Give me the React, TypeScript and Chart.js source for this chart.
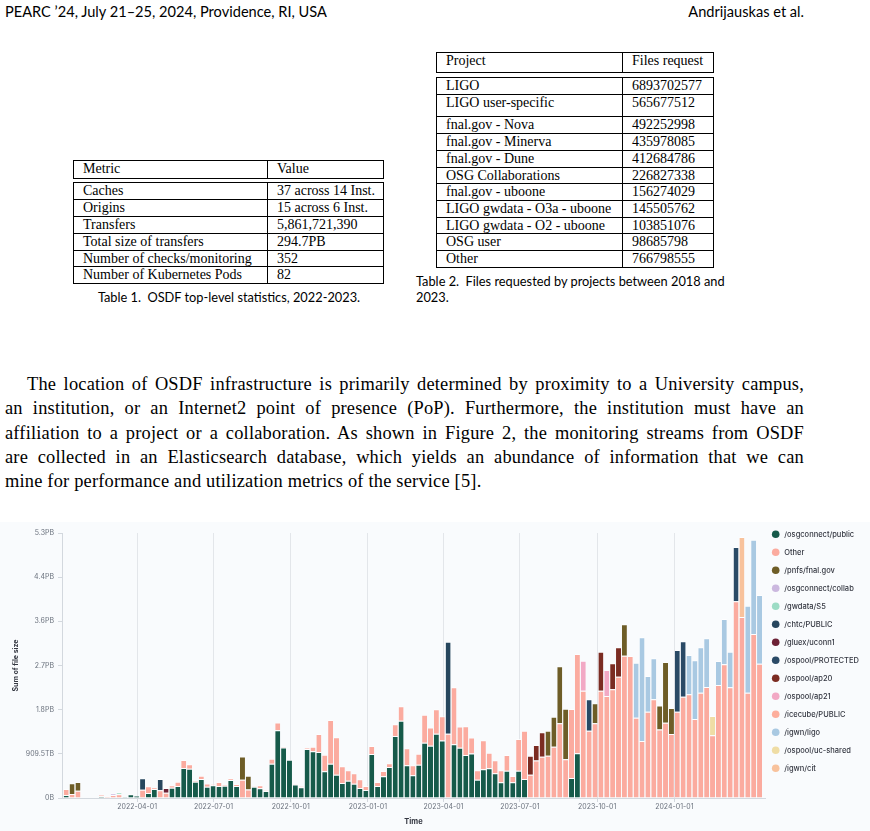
import React, { useEffect, useRef } from "react";
import { Chart, registerables } from "chart.js";
Chart.register(...registerables);

// ---------- page text ----------
const headerLeft = "PEARC \u201924, July 21\u201325, 2024, Providence, RI, USA";
const headerRight = "Andrijauskas et al.";

const table1Header = ["Metric", "Value"];
const table1Rows = [
  ["Caches", "37 across 14 Inst."],
  ["Origins", "15 across 6 Inst."],
  ["Transfers", "5,861,721,390"],
  ["Total size of transfers", "294.7PB"],
  ["Number of checks/monitoring", "352"],
  ["Number of Kubernetes Pods", "82"],
];
const table1Caption = "Table 1.\u2002OSDF top-level statistics, 2022-2023.";

const table2Header = ["Project", "Files request"];
const table2Rows = [
  ["LIGO", "6893702577"],
  ["LIGO user-specific", "565677512"],
  ["fnal.gov - Nova", "492252998"],
  ["fnal.gov - Minerva", "435978085"],
  ["fnal.gov - Dune", "412684786"],
  ["OSG Collaborations", "226827338"],
  ["fnal.gov - uboone", "156274029"],
  ["LIGO gwdata - O3a - uboone", "145505762"],
  ["LIGO gwdata - O2 - uboone", "103851076"],
  ["OSG user", "98685798"],
  ["Other", "766798555"],
];
const table2Caption = ["Table 2.\u2002Files requested by projects between 2018 and", "2023."];

const paragraphLines = [
  "The location of OSDF infrastructure is primarily determined by proximity to a University campus,",
  "an institution, or an Internet2 point of presence (PoP). Furthermore, the institution must have an",
  "affiliation to a project or a collaboration. As shown in Figure 2, the monitoring streams from OSDF",
  "are collected in an Elasticsearch database, which yields an abundance of information that we can",
  "mine for performance and utilization metrics of the service [5].",
];

// ---------- chart data (values in TB) ----------
const weekStarts = [
  "2022-01-03", "2022-01-10", "2022-01-17", "2022-01-24", "2022-01-31",
  "2022-02-07", "2022-02-14", "2022-02-21", "2022-02-28",
  "2022-03-07", "2022-03-14", "2022-03-21", "2022-03-28",
  "2022-04-04", "2022-04-11", "2022-04-18", "2022-04-25",
  "2022-05-02", "2022-05-09", "2022-05-16", "2022-05-23", "2022-05-30",
  "2022-06-06", "2022-06-13", "2022-06-20", "2022-06-27",
  "2022-07-04", "2022-07-11", "2022-07-18", "2022-07-25",
  "2022-08-01", "2022-08-08", "2022-08-15", "2022-08-22", "2022-08-29",
  "2022-09-05", "2022-09-12", "2022-09-19", "2022-09-26",
  "2022-10-03", "2022-10-10", "2022-10-17", "2022-10-24", "2022-10-31",
  "2022-11-07", "2022-11-14", "2022-11-21", "2022-11-28",
  "2022-12-05", "2022-12-12", "2022-12-19", "2022-12-26",
  "2023-01-02", "2023-01-09", "2023-01-16", "2023-01-23", "2023-01-30",
  "2023-02-06", "2023-02-13", "2023-02-20", "2023-02-27",
  "2023-03-06", "2023-03-13", "2023-03-20", "2023-03-27",
  "2023-04-03", "2023-04-10", "2023-04-17", "2023-04-24",
  "2023-05-01", "2023-05-08", "2023-05-15", "2023-05-22", "2023-05-29",
  "2023-06-05", "2023-06-12", "2023-06-19", "2023-06-26",
  "2023-07-03", "2023-07-10", "2023-07-17", "2023-07-24", "2023-07-31",
  "2023-08-07", "2023-08-14", "2023-08-21", "2023-08-28",
  "2023-09-04", "2023-09-11", "2023-09-18", "2023-09-25",
  "2023-10-02", "2023-10-09", "2023-10-16", "2023-10-23", "2023-10-30",
  "2023-11-06", "2023-11-13", "2023-11-20", "2023-11-27",
  "2023-12-04", "2023-12-11", "2023-12-18", "2023-12-25",
  "2024-01-01", "2024-01-08", "2024-01-15", "2024-01-22", "2024-01-29",
  "2024-02-05", "2024-02-12", "2024-02-19", "2024-02-26",
  "2024-03-04", "2024-03-11", "2024-03-18", "2024-03-25",
  "2024-04-01", "2024-04-08",
];

const osgconnectPublic = [
  62, 0, 0, 0, 0,
  0, 35, 8, 0,
  0, 21, 76, 47,
  0, 103, 185, 0,
  0, 212, 247, 618, 601,
  336, 391, 233, 262,
  247, 253, 371, 247,
  0, 0, 233, 200, 144,
  706, 1394, 1040, 787,
  278, 222, 1009, 962, 947,
  550, 706, 480, 309,
  356, 294, 206, 165,
  906, 247, 447, 638, 1277,
  1592, 673, 467, 686,
  1139, 1075, 1322, 1184,
  0, 1106, 1036, 885,
  916, 375, 593, 612, 511,
  325, 562, 323, 562,
  391, 0, 0, 0, 0,
  0, 0, 0, 412,
  920, 0, 0, 0,
  0, 0, 0, 0, 0,
  0, 0, 0, 0,
  0, 0, 0, 0,
  0, 0, 0, 0, 0,
  0, 0, 0, 0,
  0, 0, 0, 0,
  0, 0,
];

const other = [
  124, 82, 150, 0, 10,
  0, 33, 21, 62,
  76, 0, 0, 0,
  171, 138, 27, 159,
  109, 49, 89, 165, 93,
  21, 66, 66, 21,
  82, 14, 35, 41,
  377, 175, 8, 62, 10,
  101, 161, 25, 0,
  14, 21, 21, 95, 371,
  342, 900, 770, 344,
  214, 214, 179, 82,
  165, 82, 109, 76, 241,
  297, 350, 206, 226,
  577, 377, 504, 500,
  1324, 1174, 437, 593,
  329, 198, 595, 319, 268,
  247, 323, 130, 653,
  995, 480, 772, 850, 871,
  1056, 1538, 797, 1421,
  2045, 2209, 1386, 1538,
  2209, 2100, 2238, 2498, 2930,
  2924, 1653, 1174, 1777,
  2032, 1410, 1550, 1318,
  1777, 2086, 2135, 1627, 2168,
  2286, 1291, 2327, 2753,
  2279, 4050, 3727, 2168,
  3377, 2765,
];

const pnfsFnalGov: [string, number][] = [
  ["2022-01-10", 220], ["2022-01-17", 179], ["2022-01-24", 14],
  ["2022-08-01", 478], ["2022-08-08", 284],
  ["2023-07-31", 515], ["2023-08-07", 618], ["2023-08-14", 1174], ["2023-08-21", 1042],
  ["2023-09-25", 412], ["2023-10-30", 647],
  ["2023-12-11", 494], ["2023-12-18", 1250], ["2023-12-25", 535],
];
const osgconnectCollab: [string, number][] = [["2022-02-28", 35]];
const gwdataS5: [string, number][] = [["2022-03-07", 41]];
const chtcPublic: [string, number][] = [["2022-04-04", 235], ["2022-04-25", 233], ["2023-04-03", 1892]];
const gluexUconn1: [string, number][] = [["2022-05-02", 97]];
const ospoolProtected: [string, number][] = [
  ["2023-09-18", 647], ["2024-01-01", 1270], ["2024-01-08", 1141], ["2024-03-11", 1118],
];
const ospoolAp20: [string, number][] = [
  ["2023-07-10", 391], ["2023-07-17", 319], ["2023-07-24", 502],
  ["2023-10-02", 803], ["2023-10-16", 535], ["2023-10-23", 605],
];
const ospoolAp21: [string, number][] = [["2023-09-11", 618], ["2023-10-09", 535]];
const icecubePublic: [string, number][] = [];
const igwnLigo: [string, number][] = [
  ["2023-11-13", 1132], ["2023-11-20", 2135], ["2023-11-27", 735], ["2023-12-04", 844],
  ["2024-01-15", 809], ["2024-01-22", 1209], ["2024-01-29", 935], ["2024-02-05", 1003],
  ["2024-02-19", 494], ["2024-02-26", 933], ["2024-03-04", 733],
  ["2024-03-25", 1791], ["2024-04-01", 1942], ["2024-04-08", 1415],
];
const ospoolUcShared: [string, number][] = [["2024-02-12", 397]];
const igwnCit: [string, number][] = [["2024-03-18", 1647]];

const seriesNames = [
  "/osgconnect/public", "Other", "/pnfs/fnal.gov", "/osgconnect/collab", "/gwdata/S5",
  "/chtc/PUBLIC", "/gluex/uconn1", "/ospool/PROTECTED", "/ospool/ap20", "/ospool/ap21",
  "/icecube/PUBLIC", "/igwn/ligo", "/ospool/uc-shared", "/igwn/cit",
];
const seriesColors = [
  "#165a4a", "#fbab9f", "#6e5d27", "#cbb8df", "#9cdcc5",
  "#26465d", "#6c2135", "#2a4a66", "#7b2c22", "#f2a9c5",
  "#fdae9c", "#a9c9e2", "#efdda5", "#f8c29c",
];

const quarterTicks = [
  "2022-04-01", "2022-07-01", "2022-10-01", "2023-01-01",
  "2023-04-01", "2023-07-01", "2023-10-01", "2024-01-01",
];
const yTickValues = [0, 909.5, 1819, 2728.5, 3638, 4547.5, 5457];
const yTickLabels = ["0B", "909.5TB", "1.8PB", "2.7PB", "3.6PB", "4.4PB", "5.3PB"];
const xRange = ["2022-01-01T12:00", "2024-04-18T00:00"];

// ---------- helpers ----------
const dayOf = (s: string) => {
  const d = new Date(s.length > 10 ? s + "Z" : s + "T00:00Z");
  return d.getTime() / 86400000;
};

const sideLegend = {
  id: "sideLegend",
  afterDraw(chart: any) {
    const { ctx, chartArea } = chart;
    ctx.save();
    ctx.font = "500 7.5px Inter";
    ctx.textBaseline = "middle";
    ctx.textAlign = "left";
    chart.data.datasets.forEach((ds: any, k: number) => {
      const y = chartArea.top + 1.3 + k * 18;
      ctx.fillStyle = ds.backgroundColor;
      ctx.beginPath();
      ctx.arc(chartArea.right + 10.7, y, 3.8, 0, Math.PI * 2);
      ctx.fill();
      ctx.fillStyle = "#343741";
      ctx.fillText(ds.label, chartArea.right + 19.3, y);
    });
    ctx.restore();
  },
};

function FilesChart() {
  const ref = useRef<HTMLCanvasElement | null>(null);
  useEffect(() => {
    if (!ref.current) return;
    const fullSeries = [osgconnectPublic, other];
    const sparse = [
      pnfsFnalGov, osgconnectCollab, gwdataS5, chtcPublic, gluexUconn1, ospoolProtected,
      ospoolAp20, ospoolAp21, icecubePublic, igwnLigo, ospoolUcShared, igwnCit,
    ];
    const allSeries: (number | null)[][] = [
      ...fullSeries.map((arr) => arr.map((v) => (v ? v : null))),
      ...sparse.map((pairs) => {
        const m = new Map(pairs);
        return weekStarts.map((w) => (m.has(w) ? (m.get(w) as number) : null));
      }),
    ];
    const datasets = seriesNames.map((name, k) => ({
      label: name,
      backgroundColor: seriesColors[k],
      borderColor: "rgba(255,255,255,0.75)",
      borderWidth: { top: 1, left: 0, right: 0, bottom: 0 },
      borderSkipped: false,
      categoryPercentage: 0.85,
      barPercentage: 1,
      data: weekStarts.map((w, i) => ({ x: dayOf(w) + 3.5, y: allSeries[k][i] })),
    }));
    const tickFont = { family: "Inter", size: 7 };
    const chart = new Chart(ref.current, {
      type: "bar",
      data: { datasets } as any,
      plugins: [sideLegend],
      options: {
        animation: false,
        responsive: false,
        layout: { padding: { left: 6, right: 105, top: 11, bottom: 0 } },
        plugins: { legend: { display: false }, tooltip: { enabled: false } },
        scales: {
          x: {
            type: "linear",
            stacked: true,
            offset: false,
            min: dayOf(xRange[0]),
            max: dayOf(xRange[1]),
            afterBuildTicks: (scale: any) => {
              scale.ticks = quarterTicks.map((d) => ({ value: dayOf(d) }));
            },
            afterFit: (scale: any) => {
              scale.height = 33;
            },
            ticks: {
              autoSkip: false,
              maxRotation: 0,
              padding: 1,
              color: "#6a717d",
              font: tickFont,
              callback: (_v: any, i: number) => quarterTicks[i],
            },
            grid: {
              offset: false,
              color: "#e3e6ea",
              lineWidth: 1,
              drawTicks: true,
              tickLength: 4,
              tickColor: "#d3d8de",
            },
            border: { display: true, color: "#d3d8de" },
            title: {
              display: true,
              text: "Time",
              color: "#343741",
              font: { family: "Inter", size: 7.5, weight: "bold" },
              padding: { top: 0, bottom: 4.5 },
            },
          },
          y: {
            stacked: true,
            min: 0,
            max: yTickValues[yTickValues.length - 1],
            afterBuildTicks: (scale: any) => {
              scale.ticks = yTickValues.map((v) => ({ value: v }));
            },
            afterFit: (scale: any) => {
              scale.width = 56;
            },
            ticks: {
              padding: 4,
              color: "#6a717d",
              font: tickFont,
              callback: (_v: any, i: number) => yTickLabels[i],
            },
            grid: { drawOnChartArea: false, drawTicks: true, tickLength: 4, color: "#d3d8de" },
            border: { display: true, color: "#d3d8de" },
            title: {
              display: true,
              text: "Sum of file size",
              color: "#343741",
              font: { family: "Inter", size: 7, weight: "bold" },
              padding: { top: 6, bottom: 0 },
            },
          },
        },
      } as any,
    });
    return () => chart.destroy();
  }, []);
  return <canvas ref={ref} width={870} height={309} style={{ display: "block" }} />;
}

// ---------- tables ----------
type TableProps = {
  left: number;
  right: number;
  divider: number;
  header: string[];
  headerTop: number;
  headerBottom: number;
  rows: string[][];
  lines: number[];
};

function BoxTable({ left, right, divider, header, headerTop, headerBottom, rows, lines }: TableProps) {
  const width = right - left;
  const textStyle: React.CSSProperties = {
    position: "absolute",
    top: 0,
    fontFamily: '"Liberation Serif", "Times New Roman", serif',
    fontSize: 14,
    lineHeight: "16px",
    color: "#000",
    whiteSpace: "nowrap",
  };
  const row = (key: string, top: number, bottom: number, cells: string[]) => (
    <div
      key={key}
      style={{
        position: "absolute",
        left,
        top,
        width,
        height: bottom - top + 1,
        border: "1px solid #000",
        boxSizing: "border-box",
      }}
    >
      <div style={{ position: "absolute", left: divider - left - 1, top: 0, bottom: 0, borderLeft: "1px solid #000" }} />
      <span style={{ ...textStyle, left: 9 }}>{cells[0]}</span>
      <span style={{ ...textStyle, left: divider - left + 9 }}>{cells[1]}</span>
    </div>
  );
  return (
    <>
      {row("h", headerTop, headerBottom, header)}
      {rows.map((r, i) => row("r" + i, lines[i], lines[i + 1], r))}
    </>
  );
}

export default function App() {
  const sans = 'Lato, "Open Sans", sans-serif';
  const capStyle: React.CSSProperties = {
    position: "absolute",
    fontFamily: sans,
    fontSize: 12.8,
    lineHeight: "16px",
    whiteSpace: "nowrap",
  };
  return (
    <div style={{ position: "absolute", left: 0, top: 0, width: 870, height: 831, background: "#fff", overflow: "hidden" }}>
      <div style={{ position: "absolute", left: 5, top: 3, fontFamily: sans, fontSize: 14.6, lineHeight: "18px", whiteSpace: "nowrap" }}>
        {headerLeft}
      </div>
      <div style={{ position: "absolute", right: 66, top: 3, fontFamily: sans, fontSize: 14.6, lineHeight: "18px", whiteSpace: "nowrap" }}>
        {headerRight}
      </div>

      <BoxTable
        left={73}
        right={384}
        divider={267}
        header={table1Header}
        headerTop={160}
        headerBottom={178}
        rows={table1Rows}
        lines={[181.5, 199, 216, 233, 249.5, 266, 283]}
      />
      <div style={{ ...capStyle, left: 0, width: 458, top: 289, textAlign: "center" }}>{table1Caption}</div>

      <BoxTable
        left={436}
        right={714}
        divider={622}
        header={table2Header}
        headerTop={52}
        headerBottom={72}
        rows={table2Rows}
        lines={[76.5, 94.3, 116.3, 133.3, 150.3, 167, 183.3, 200, 216.7, 233.3, 250, 267.3]}
      />
      {table2Caption.map((t, i) => (
        <div key={i} style={{ ...capStyle, left: 416, top: 273 + i * 15.5 }}>
          {t}
        </div>
      ))}

      {paragraphLines.map((t, i) => {
        const last = i === paragraphLines.length - 1;
        return (
          <div
            key={i}
            style={{
              position: "absolute",
              left: 5,
              width: 799,
              top: 372 + i * 24.3,
              fontFamily: '"Liberation Serif", "Times New Roman", serif',
              fontSize: 18.4,
              letterSpacing: 0.2,
              lineHeight: "24px",
              textAlign: last ? "left" : "justify",
              textAlignLast: last ? "left" : "justify",
              textIndent: i === 0 ? 22 : 0,
              whiteSpace: "nowrap",
            } as React.CSSProperties}
          >
            {t}
          </div>
        );
      })}

      <div style={{ position: "absolute", left: 0, top: 522, width: 870, height: 309, background: "#f9fbfd" }}>
        <FilesChart />
      </div>
    </div>
  );
}
